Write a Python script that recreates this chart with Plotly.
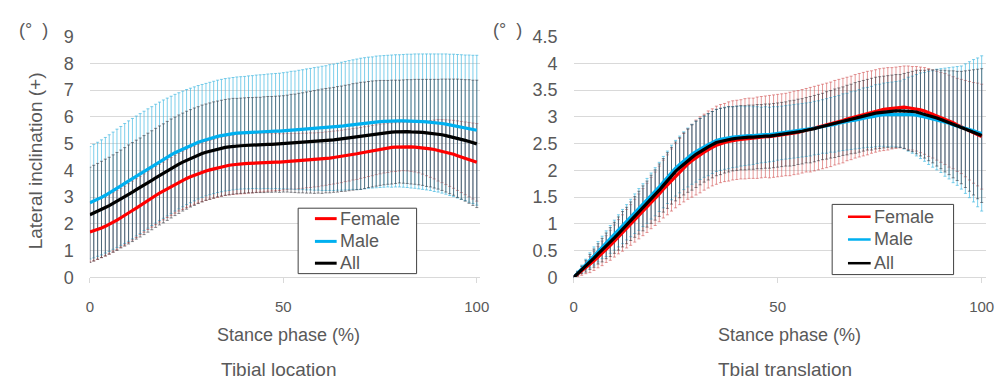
import plotly.graph_objects as go

# ---------------- data ----------------
stance = list(range(0, 101))

# Left panel: Tibial location (lateral inclination, degrees)
loc_female_mean = [1.70,1.74,1.79,1.85,1.91,1.98,2.06,2.14,2.23,2.31,2.40,2.50,2.59,2.69,2.78,2.88,2.97,3.06,3.15,3.23,3.32,3.40,3.48,3.56,3.63,3.70,3.76,3.82,3.88,3.93,3.98,4.02,4.06,4.10,4.14,4.17,4.19,4.21,4.23,4.24,4.25,4.26,4.27,4.28,4.28,4.29,4.30,4.30,4.31,4.31,4.32,4.33,4.34,4.34,4.35,4.36,4.37,4.38,4.39,4.40,4.42,4.44,4.46,4.48,4.50,4.52,4.55,4.57,4.60,4.62,4.65,4.68,4.71,4.74,4.77,4.80,4.82,4.84,4.86,4.87,4.88,4.89,4.89,4.88,4.87,4.86,4.84,4.82,4.80,4.78,4.75,4.72,4.68,4.64,4.60,4.55,4.50,4.45,4.40,4.35,4.30]
loc_male_mean = [2.79,2.85,2.92,2.99,3.07,3.15,3.24,3.33,3.42,3.51,3.60,3.69,3.79,3.88,3.98,4.07,4.16,4.25,4.34,4.42,4.50,4.58,4.66,4.73,4.80,4.87,4.93,4.99,5.05,5.10,5.15,5.19,5.23,5.27,5.30,5.33,5.35,5.37,5.39,5.40,5.41,5.42,5.43,5.44,5.44,5.45,5.46,5.46,5.47,5.47,5.48,5.49,5.50,5.50,5.51,5.52,5.53,5.54,5.55,5.56,5.57,5.58,5.60,5.61,5.63,5.65,5.67,5.69,5.71,5.72,5.74,5.76,5.78,5.79,5.81,5.82,5.83,5.84,5.84,5.85,5.85,5.85,5.85,5.84,5.84,5.83,5.82,5.81,5.80,5.78,5.77,5.75,5.73,5.70,5.68,5.65,5.62,5.59,5.56,5.53,5.50]
loc_all_mean = [2.34,2.40,2.47,2.54,2.61,2.68,2.76,2.84,2.93,3.01,3.10,3.19,3.28,3.36,3.45,3.54,3.63,3.72,3.81,3.89,3.98,4.07,4.15,4.23,4.31,4.38,4.45,4.51,4.57,4.63,4.68,4.72,4.76,4.80,4.83,4.86,4.88,4.90,4.91,4.92,4.93,4.94,4.94,4.95,4.95,4.96,4.97,4.97,4.98,4.98,4.99,5.00,5.01,5.01,5.02,5.03,5.04,5.05,5.06,5.08,5.09,5.11,5.12,5.14,5.16,5.18,5.20,5.22,5.25,5.27,5.29,5.31,5.34,5.36,5.38,5.40,5.41,5.42,5.43,5.44,5.45,5.45,5.45,5.44,5.44,5.43,5.42,5.40,5.39,5.37,5.35,5.33,5.30,5.27,5.24,5.20,5.16,5.12,5.08,5.03,4.99]
loc_female_sd = [1.12,1.12,1.12,1.11,1.11,1.11,1.11,1.11,1.10,1.10,1.10,1.10,1.10,1.09,1.09,1.09,1.09,1.09,1.08,1.08,1.08,1.08,1.08,1.08,1.09,1.09,1.09,1.09,1.10,1.10,1.10,1.10,1.10,1.11,1.11,1.11,1.11,1.11,1.12,1.12,1.12,1.11,1.11,1.10,1.09,1.09,1.08,1.07,1.07,1.06,1.05,1.05,1.04,1.04,1.03,1.03,1.02,1.02,1.01,1.01,1.00,1.00,0.99,0.99,0.98,0.98,0.97,0.97,0.96,0.96,0.95,0.95,0.94,0.94,0.93,0.93,0.92,0.92,0.91,0.91,0.90,0.90,0.91,0.92,0.93,0.95,0.98,1.02,1.06,1.10,1.15,1.18,1.21,1.24,1.27,1.30,1.33,1.36,1.39,1.42,1.45]
loc_male_sd = [2.10,2.12,2.13,2.15,2.16,2.18,2.19,2.21,2.22,2.24,2.25,2.25,2.24,2.24,2.23,2.23,2.22,2.22,2.21,2.21,2.20,2.19,2.18,2.17,2.16,2.15,2.14,2.13,2.12,2.11,2.10,2.10,2.10,2.10,2.10,2.10,2.10,2.10,2.10,2.10,2.10,2.11,2.11,2.12,2.13,2.13,2.14,2.15,2.15,2.16,2.17,2.18,2.20,2.21,2.23,2.24,2.26,2.27,2.29,2.30,2.32,2.33,2.35,2.36,2.37,2.39,2.40,2.41,2.42,2.44,2.45,2.45,2.45,2.45,2.46,2.46,2.46,2.46,2.47,2.47,2.47,2.48,2.49,2.50,2.51,2.52,2.53,2.54,2.55,2.57,2.58,2.60,2.62,2.64,2.66,2.68,2.70,2.72,2.75,2.77,2.80]
loc_all_sd = [1.78,1.79,1.79,1.80,1.81,1.81,1.82,1.83,1.83,1.84,1.85,1.85,1.85,1.85,1.85,1.85,1.85,1.85,1.85,1.85,1.85,1.85,1.84,1.84,1.83,1.83,1.82,1.82,1.81,1.81,1.80,1.80,1.80,1.79,1.79,1.79,1.79,1.79,1.78,1.78,1.78,1.78,1.78,1.78,1.78,1.79,1.79,1.79,1.79,1.80,1.80,1.81,1.83,1.84,1.86,1.87,1.89,1.90,1.92,1.93,1.95,1.95,1.96,1.96,1.97,1.97,1.98,1.98,1.99,1.99,2.00,1.99,1.98,1.98,1.97,1.96,1.95,1.94,1.94,1.93,1.92,1.93,1.94,1.95,1.96,1.97,1.98,2.00,2.01,2.03,2.05,2.08,2.11,2.14,2.17,2.21,2.24,2.27,2.31,2.34,2.38]

# Right panel: Tibial translation (degrees)
tr_female_mean = [0,0.06,0.12,0.18,0.24,0.31,0.38,0.45,0.53,0.60,0.68,0.76,0.83,0.91,0.98,1.06,1.14,1.22,1.30,1.39,1.47,1.56,1.65,1.73,1.82,1.90,1.98,2.05,2.12,2.18,2.24,2.29,2.34,2.39,2.43,2.47,2.50,2.52,2.54,2.56,2.57,2.58,2.59,2.60,2.60,2.61,2.62,2.63,2.63,2.64,2.65,2.66,2.67,2.68,2.70,2.71,2.73,2.75,2.76,2.78,2.80,2.82,2.84,2.86,2.89,2.91,2.93,2.96,2.98,3.01,3.03,3.05,3.07,3.09,3.11,3.13,3.14,3.15,3.16,3.17,3.18,3.18,3.17,3.16,3.15,3.13,3.11,3.08,3.05,3.02,2.99,2.96,2.92,2.89,2.85,2.82,2.78,2.74,2.70,2.67,2.63]
tr_male_mean = [0,0.08,0.16,0.24,0.32,0.40,0.48,0.56,0.63,0.71,0.79,0.87,0.95,1.03,1.11,1.19,1.27,1.35,1.43,1.52,1.60,1.69,1.78,1.87,1.96,2.04,2.11,2.18,2.24,2.30,2.35,2.40,2.44,2.48,2.52,2.56,2.58,2.60,2.61,2.62,2.63,2.64,2.64,2.65,2.65,2.66,2.66,2.67,2.67,2.68,2.69,2.70,2.71,2.72,2.73,2.74,2.75,2.76,2.77,2.79,2.80,2.82,2.83,2.85,2.86,2.88,2.90,2.91,2.93,2.94,2.96,2.98,2.99,3.00,3.02,3.03,3.04,3.04,3.05,3.05,3.05,3.05,3.05,3.04,3.03,3.02,3.00,2.98,2.96,2.95,2.93,2.90,2.88,2.85,2.83,2.80,2.78,2.76,2.74,2.71,2.69]
tr_all_mean = [0,0.07,0.14,0.21,0.29,0.36,0.44,0.51,0.59,0.66,0.74,0.82,0.90,0.97,1.05,1.13,1.21,1.29,1.37,1.46,1.54,1.63,1.72,1.81,1.90,1.98,2.05,2.12,2.18,2.24,2.30,2.35,2.40,2.44,2.48,2.52,2.54,2.56,2.58,2.59,2.60,2.61,2.61,2.62,2.62,2.63,2.63,2.64,2.64,2.65,2.66,2.67,2.68,2.69,2.70,2.72,2.73,2.75,2.76,2.78,2.80,2.82,2.84,2.86,2.88,2.90,2.92,2.94,2.96,2.98,3.00,3.02,3.04,3.05,3.07,3.08,3.09,3.10,3.10,3.11,3.11,3.11,3.10,3.10,3.09,3.07,3.05,3.03,3.01,2.98,2.95,2.92,2.89,2.86,2.83,2.80,2.77,2.74,2.71,2.68,2.65]
tr_female_sd = [0,0.04,0.08,0.11,0.15,0.18,0.20,0.23,0.25,0.28,0.30,0.32,0.34,0.36,0.38,0.40,0.42,0.44,0.46,0.48,0.50,0.52,0.54,0.56,0.58,0.60,0.62,0.64,0.66,0.68,0.70,0.71,0.71,0.72,0.72,0.73,0.73,0.73,0.74,0.74,0.74,0.74,0.75,0.75,0.75,0.76,0.76,0.76,0.77,0.77,0.77,0.77,0.77,0.78,0.78,0.78,0.78,0.78,0.79,0.79,0.79,0.79,0.79,0.79,0.79,0.79,0.79,0.78,0.78,0.78,0.78,0.78,0.78,0.77,0.77,0.77,0.77,0.77,0.76,0.76,0.76,0.77,0.78,0.78,0.79,0.80,0.81,0.82,0.82,0.83,0.84,0.85,0.86,0.86,0.87,0.88,0.90,0.92,0.94,0.96,0.98]
tr_male_sd = [0,0.04,0.07,0.10,0.14,0.17,0.19,0.21,0.24,0.26,0.28,0.30,0.32,0.33,0.35,0.37,0.39,0.40,0.42,0.43,0.45,0.46,0.48,0.49,0.51,0.52,0.53,0.54,0.55,0.56,0.57,0.57,0.57,0.58,0.58,0.58,0.58,0.58,0.58,0.57,0.57,0.56,0.55,0.55,0.54,0.53,0.52,0.52,0.51,0.51,0.50,0.50,0.50,0.50,0.50,0.50,0.50,0.50,0.50,0.50,0.50,0.50,0.51,0.51,0.52,0.52,0.53,0.53,0.54,0.54,0.55,0.56,0.56,0.57,0.58,0.58,0.59,0.60,0.60,0.61,0.62,0.65,0.69,0.72,0.76,0.80,0.83,0.87,0.90,0.94,0.97,1.01,1.04,1.08,1.11,1.15,1.21,1.27,1.33,1.39,1.45]
tr_all_sd = [0,0.04,0.07,0.11,0.14,0.17,0.19,0.22,0.24,0.27,0.29,0.31,0.33,0.34,0.36,0.38,0.40,0.42,0.43,0.45,0.47,0.49,0.50,0.52,0.53,0.55,0.56,0.58,0.59,0.61,0.62,0.62,0.62,0.62,0.62,0.62,0.62,0.61,0.61,0.60,0.60,0.60,0.60,0.60,0.60,0.60,0.60,0.60,0.60,0.60,0.60,0.60,0.60,0.61,0.61,0.61,0.61,0.61,0.62,0.62,0.62,0.62,0.63,0.63,0.64,0.64,0.64,0.65,0.65,0.66,0.66,0.66,0.66,0.67,0.67,0.67,0.67,0.67,0.68,0.68,0.68,0.70,0.73,0.75,0.78,0.80,0.82,0.85,0.87,0.90,0.92,0.95,0.97,1.00,1.02,1.05,1.09,1.13,1.17,1.21,1.25]

series_names = ["Female", "Male", "All"]
line_colors = ["#ff0000", "#00b0f0", "#000000"]
err_colors = ["rgba(205,70,70,0.55)", "rgba(70,185,225,0.7)", "rgba(45,45,55,0.55)"]

x_ticks = [0, 50, 100]
left_y_ticks = [0, 1, 2, 3, 4, 5, 6, 7, 8, 9]
right_y_ticks = [0, 0.5, 1, 1.5, 2, 2.5, 3, 3.5, 4, 4.5]

FONT = "Liberation Sans, Arial, sans-serif"
TXT = "#595959"
GRID = "#d9d9d9"
W, H = 1007, 387

def px(x):
    return x / W

def py(y):
    return 1 - y / H

fig = go.Figure()

panels = [
    ("x", "y", [loc_female_mean, loc_male_mean, loc_all_mean], [loc_female_sd, loc_male_sd, loc_all_sd]),
    ("x2", "y2", [tr_female_mean, tr_male_mean, tr_all_mean], [tr_female_sd, tr_male_sd, tr_all_sd]),
]

for xa, ya, means, sds in panels:
    # error bars first (beneath all mean lines)
    for name, m, s, ec in zip(series_names, means, sds, err_colors):
        fig.add_trace(go.Scatter(
            x=stance, y=m, xaxis=xa, yaxis=ya, mode="markers",
            marker=dict(size=1, color="rgba(0,0,0,0)"),
            error_y=dict(type="data", array=s, symmetric=True, color=ec, thickness=1, width=1.5),
            showlegend=False, hoverinfo="skip", name=name + " SD"))
    for name, m, lc in zip(series_names, means, line_colors):
        fig.add_trace(go.Scatter(
            x=stance, y=m, xaxis=xa, yaxis=ya, mode="lines",
            line=dict(color=lc, width=3.2), showlegend=False, name=name))

ydom = [py(282), py(28)]
common_x = dict(tickvals=x_ticks, showgrid=False, zeroline=False, showline=True, linecolor=GRID,
                linewidth=1, ticks="outside", ticklen=5, tickcolor=GRID, tickwidth=1,
                ticklabelstandoff=11, tickfont=dict(family=FONT, size=15, color=TXT))
common_y = dict(showgrid=True, gridcolor=GRID, gridwidth=1, zeroline=False, showline=False,
                ticks="", ticklabelstandoff=15, tickfont=dict(family=FONT, size=18, color=TXT))

fig.update_layout(
    width=W, height=H, margin=dict(l=0, r=0, t=0, b=0),
    paper_bgcolor="white", plot_bgcolor="white",
    xaxis=dict(domain=[px(87), px(482)], range=[0, 100.77], anchor="y", **common_x),
    yaxis=dict(domain=ydom, range=[0, 9], tickvals=left_y_ticks, anchor="x", **common_y),
    xaxis2=dict(domain=[px(577), px(995)], range=[0, 101.09], anchor="y2", **common_x),
    yaxis2=dict(domain=ydom, range=[0, 4.5], tickvals=right_y_ticks, anchor="x2", **common_y),
)

annotations = []
def text(x, y, s, size, anchor="center", angle=0):
    annotations.append(dict(x=px(x), y=py(y), xref="paper", yref="paper", text=s, showarrow=False,
                            xanchor=anchor, yanchor="middle", textangle=angle,
                            font=dict(family=FONT, size=size, color=TXT)))

text(13, 21, "(°  )", 18, anchor="left")
text(493, 21, "(°  )", 18, anchor="left")
text(32, 159, "Lateral inclination (+)", 19, angle=-90)
text(288, 343, "Stance phase (%)", 18)
text(796, 343, "Stance phase (%)", 18)
text(278, 379, "Tibial location", 19)
text(791, 379, "Tbial translation", 19)

shapes = []
# manual legends (box, line samples, labels)
legends = [
    dict(box=(298, 209, 418, 278), line_x=(315, 337), text_x=338, rows=(220, 244, 267), lw=3),
    dict(box=(839, 205, 962, 279), line_x=(855, 878), text_x=879, rows=(218, 242, 267), lw=2.5),
]
for lg in legends:
    x0, y0, x1, y1 = lg["box"]
    shapes.append(dict(type="rect", xref="paper", yref="paper", x0=px(x0), x1=px(x1), y0=py(y1), y1=py(y0),
                       line=dict(color="#404040", width=1), fillcolor="white", layer="above"))
    for name, lc, ry in zip(series_names, line_colors, lg["rows"]):
        shapes.append(dict(type="line", xref="paper", yref="paper", x0=px(lg["line_x"][0]), x1=px(lg["line_x"][1]),
                           y0=py(ry), y1=py(ry), line=dict(color=lc, width=lg["lw"]), layer="above"))
        text(lg["text_x"], ry, name, 18, anchor="left")

fig.update_layout(annotations=annotations, shapes=shapes)
fig.write_html("out.html")
